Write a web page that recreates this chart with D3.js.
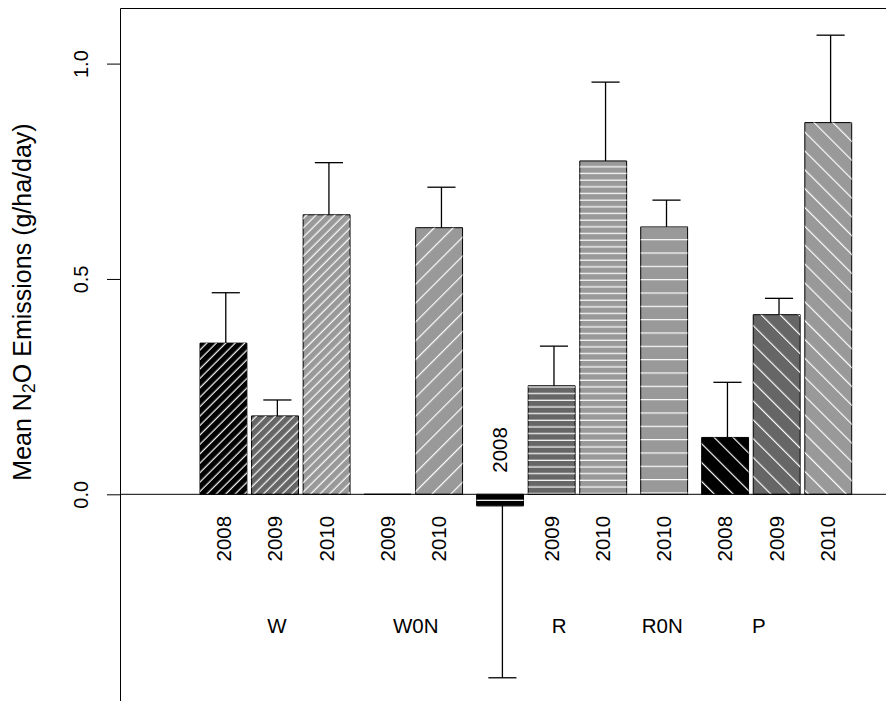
<!DOCTYPE html>
<html><head><meta charset="utf-8">
<script src="https://cdn.jsdelivr.net/npm/d3@7"></script>
<style>
body{margin:0;background:#fff}
svg{display:block;background:#fff}
text{font-family:"Liberation Sans", Arial, Helvetica, sans-serif; fill:#000}
</style>
</head><body>
<svg id="chart" width="886" height="701"></svg>
<script>
// ---------- data ----------
const groups = ["W", "W0N", "R", "R0N", "P"];
const barGroups = ["W","W","W","W0N","W0N","R","R","R","R0N","P","P","P"];
const barYears = ["2008","2009","2010","2009","2010","2008","2009","2010","2010","2008","2009","2010"];
const meanValues = [0.351, 0.182, 0.649, 0.000, 0.619, -0.027, 0.252, 0.774, 0.621, 0.132, 0.417, 0.863];
const errorValues = [0.117, 0.037, 0.121, 0.000, 0.094, 0.399, 0.092, 0.183, 0.062, 0.128, 0.038, 0.203];
const yTicks = [0.0, 0.5, 1.0];

// ---------- layout / style ----------
const W = 886, H = 701;
const frame = {left: 120.5, top: 8.5};
const spaceWithin = 0.1, spaceBetween = 0.3;      // in bar-width units
const groupLabelAt = {W: 1.64, W0N: 4.60, R: 7.66, R0N: 9.86, P: 11.92}; // bar-width units
const yearFill = {"2008": "#000000", "2009": "#666666", "2010": "#999999"};
const hatch = {
  W:   {angle: 45,  spacing: 6.67},
  W0N: {angle: 45,  spacing: 13.33},
  R:   {angle: 0,   spacing: 6.67},
  R0N: {angle: 0,   spacing: 13.33},
  P:   {angle: 135, spacing: 13.33}
};

// bar positions in bar-width units
const bars = [];
let cursor = 0;
barGroups.forEach((g, i) => {
  if (i > 0) cursor += (g === barGroups[i-1]) ? spaceWithin : spaceBetween;
  bars.push({group: g, year: barYears[i], value: meanValues[i], err: errorValues[i], x0: cursor, x1: cursor + 1});
  cursor += 1;
});
const totalUnits = cursor;

const x = d3.scaleLinear().domain([0, totalUnits]).range([200, 851.7]);
const y = d3.scaleLinear().domain([0, 1]).range([494.3, 63.6]);

const svg = d3.select("#chart");
svg.append("rect").attr("width", W).attr("height", H).attr("fill", "#fff");

// patterns
const defs = svg.append("defs");
groups.forEach(g => {
  const h = hatch[g];
  const p = defs.append("pattern")
    .attr("id", "hatch-" + g)
    .attr("patternUnits", "userSpaceOnUse")
    .attr("width", h.spacing).attr("height", h.spacing)
    .attr("patternTransform", `translate(0,${y(0)}) rotate(${-h.angle})`);
  p.append("line")
    .attr("x1", -1).attr("x2", h.spacing + 1)
    .attr("y1", h.spacing * 0.9).attr("y2", h.spacing * 0.9)
    .attr("stroke", "#fff").attr("stroke-width", 1.2);
});

// frame (left + top)
svg.append("line").attr("x1", frame.left).attr("x2", frame.left)
  .attr("y1", frame.top).attr("y2", H).attr("stroke", "#000").attr("stroke-width", 1);
svg.append("line").attr("x1", frame.left).attr("x2", W)
  .attr("y1", frame.top).attr("y2", frame.top).attr("stroke", "#000").attr("stroke-width", 1);

// y axis
const yAxis = d3.axisLeft(y).tickValues(yTicks).tickFormat(d3.format(".1f")).tickSize(13.5).tickPadding(0);
const ga = svg.append("g").attr("transform", `translate(${frame.left},0)`).call(yAxis);
ga.select(".domain").remove();
ga.selectAll(".tick line").attr("stroke", "#000").attr("stroke-width", 1);
ga.selectAll(".tick text")
  .attr("dy", null)
  .attr("transform", "rotate(-90)")
  .attr("x", 0).attr("y", -32.2)
  .attr("text-anchor", "middle")
  .style("font-size", "20px")
  .style("font-family", '"Liberation Sans", Arial, Helvetica, sans-serif')
  .attr("fill", "#000");

// y title
const title = svg.append("text")
  .attr("transform", "translate(31,302) rotate(-90)")
  .attr("text-anchor", "middle")
  .style("font-size", "25px");
title.append("tspan").text("Mean N");
title.append("tspan").text("2").attr("baseline-shift", "-22%").style("font-size", "18px");
title.append("tspan").text("O Emissions (g/ha/day)");

// bars: fill + border
const barPath = d => {
  const yTop = y(Math.max(d.value, 0)), yBot = y(Math.min(d.value, 0));
  return `M${x(d.x0)},${yTop}H${x(d.x1)}V${yBot}H${x(d.x0)}Z`;
};
svg.append("g").selectAll("path").data(bars).join("path")
  .attr("d", barPath)
  .attr("fill", d => yearFill[d.year])
  .attr("stroke", "#000").attr("stroke-width", 1);
// hatching overlay
svg.append("g").selectAll("path").data(bars.filter(d => d.value !== 0)).join("path")
  .attr("d", barPath)
  .attr("fill", d => `url(#hatch-${d.group})`)
  .attr("stroke", "none");

// zero line
svg.append("line").attr("x1", frame.left).attr("x2", W)
  .attr("y1", y(0)).attr("y2", y(0)).attr("stroke", "#000").attr("stroke-width", 1);

// error bars
const errOffset = 0.05, capHalf = 0.3;
const eg = svg.append("g").attr("stroke", "#000").attr("stroke-width", 1.3);
bars.filter(d => d.err > 0).forEach(d => {
  const mid = (d.x0 + d.x1) / 2 + errOffset;
  const sign = d.value >= 0 ? 1 : -1;
  const yEnd = y(d.value + sign * d.err);
  eg.append("line").attr("x1", x(mid)).attr("x2", x(mid)).attr("y1", y(d.value)).attr("y2", yEnd);
  eg.append("line").attr("x1", x(mid - capHalf)).attr("x2", x(mid + capHalf))
    .attr("y1", yEnd).attr("y2", yEnd);
});

// year labels
svg.append("g").selectAll("text").data(bars).join("text")
  .attr("transform", d => `translate(${x((d.x0 + d.x1) / 2)},${y(d.value >= 0 ? -0.05 : 0.05)}) rotate(-90)`)
  .attr("dy", "0.35em")
  .attr("text-anchor", d => d.value >= 0 ? "end" : "start")
  .style("font-size", "20.5px")
  .text(d => d.year);

// group labels
svg.append("g").selectAll("text").data(groups).join("text")
  .attr("x", g => x(groupLabelAt[g]))
  .attr("y", y(-0.305))
  .attr("dy", "0.35em")
  .attr("text-anchor", "middle")
  .style("font-size", "20.5px")
  .text(g => g);
</script>
</body></html>
